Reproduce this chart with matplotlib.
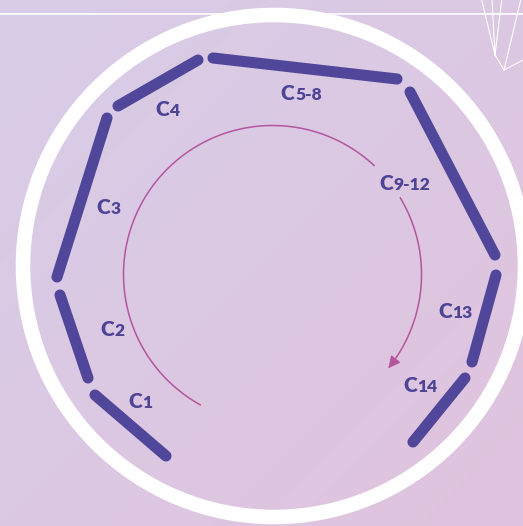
import numpy as np
import matplotlib
matplotlib.use("Agg")
import matplotlib.pyplot as plt
from matplotlib.patches import Circle, FancyArrowPatch
from matplotlib.path import Path

# ---- data ----
labels = ["C1", "C2", "C3", "C4", "C5-8", "C9-12", "C13", "C14"]
seg_x0 = [95, 60, 107, 118, 213, 410, 496, 465]
seg_y0 = [395, 295, 118, 106, 58, 92, 275, 378]
seg_x1 = [166, 88, 57, 198, 397, 495, 472, 413]
seg_y1 = [456, 378, 277, 60, 79, 255, 362, 442]
label_x = [140, 112, 108, 167, 301, 405, 455, 420]
label_y = [400, 328, 207, 108, 93, 182, 310, 385]

ring_center = (274, 266)
ring_radius = 251

arc_center = (272.5, 274.5)
arc_radius = 149
arc_part1 = (119, 313)   # degrees (screen coords, y down)
arc_part2 = (329, 399)

W, H = 523, 526
fig = plt.figure(figsize=(W / 100, H / 100), dpi=100)
ax = fig.add_axes([0, 0, 1, 1])
ax.set_xlim(0, W)
ax.set_ylim(H, 0)
ax.axis("off")

# background gradient
c_tl = np.array([216, 205, 231]) / 255
c_br = np.array([224, 195, 222]) / 255
yy, xx = np.mgrid[0:1:200j, 0:1:200j]
t = (xx + yy) / 2
img = c_tl[None, None, :] * (1 - t[..., None]) + c_br[None, None, :] * t[..., None]
ax.imshow(img, extent=[0, W, H, 0], aspect="auto", zorder=0, interpolation="bilinear")

# top white line and decoration
ax.plot([0, W], [14, 14], color="white", lw=1.2, zorder=1)
deco = [((481.7, 0), (495, 55)), ((492, 0), (495, 55)), ((501.7, 0), (495, 55)),
        ((495, 55), (504, 70)), ((520.7, 0), (504, 70)), ((504, 70), (523, 60))]
for (a, b) in deco:
    ax.plot([a[0], b[0]], [a[1], b[1]], color="white", lw=0.8, zorder=1)

# white ring
ax.add_patch(Circle(ring_center, ring_radius, fill=False, edgecolor="white", lw=10.5, zorder=2))

# segments
seg_color = "#51479a"
for x0, y0, x1, y1 in zip(seg_x0, seg_y0, seg_x1, seg_y1):
    ax.plot([x0, x1], [y0, y1], color=seg_color, lw=8, solid_capstyle="round", zorder=3)

# arrow arc
arc_color = "#b4569e"
def arc_pts(a0, a1):
    th = np.radians(np.linspace(a0, a1, 120))
    return np.column_stack([arc_center[0] + arc_radius * np.cos(th),
                            arc_center[1] + arc_radius * np.sin(th)])
p1 = arc_pts(*arc_part1)
ax.plot(p1[:, 0], p1[:, 1], color=arc_color, lw=1.1, zorder=3)
p2 = arc_pts(*arc_part2)
arrow = FancyArrowPatch(path=Path(p2), arrowstyle="-|>,head_length=7,head_width=3.5",
                        color=arc_color, lw=1.1, zorder=3, mutation_scale=1)
ax.add_patch(arrow)

# labels: big "C" plus smaller figures
lab_color = "#4e4495"
fig.canvas.draw()
renderer = fig.canvas.get_renderer()
for lab, lx, ly in zip(labels, label_x, label_y):
    tc = ax.text(0, 0, lab[0], fontsize=15, fontweight="heavy", family="Lato",
                 color=lab_color, ha="left", va="baseline", zorder=4)
    tr = ax.text(0, 0, lab[1:], fontsize=12.5, fontweight="heavy", family="Lato",
                 color=lab_color, ha="left", va="baseline", zorder=4)
    wc = tc.get_window_extent(renderer).width
    wr = tr.get_window_extent(renderer).width
    left = lx - (wc + wr) / 2
    base = ly + 7.5
    tc.set_position((left, base))
    tr.set_position((left + wc + 0.5, base))

fig.savefig("out.png", dpi=100)
